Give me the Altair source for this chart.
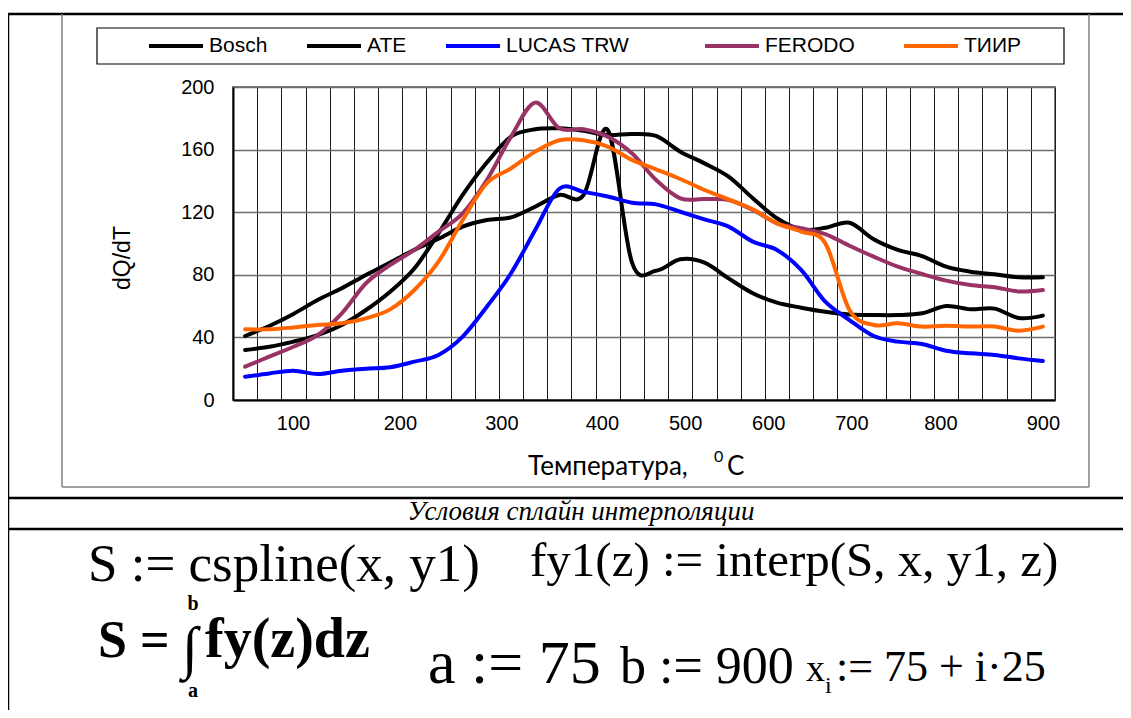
import altair as alt
import pandas as pd

# ---------------- data ----------------
temps = [75, 100, 125, 150, 175, 200, 225, 250, 275, 300, 325, 350, 375, 400, 425, 450, 475,
         500, 525, 550, 575, 600, 625, 650, 675, 700, 725, 750, 775, 800, 825, 850, 875, 900]

series_names = ["Bosch", "ATE", "LUCAS TRW", "FERODO", "ТИИР"]
series_colors = ["#000000", "#000000", "#0000FF", "#993366", "#FF6600"]

bosch = [40.9, 47.3, 55.0, 63.9, 71.4, 79.9, 87.8, 95.9, 103.0, 110.8, 115.0, 116.7, 123.5, 131.0,
         131.0, 172.5, 88.0, 82.6, 89.9, 87.8, 77.7, 68.2, 62.2, 59.0, 56.4, 54.7, 54.3, 54.3,
         55.4, 60.0, 58.0, 58.4, 52.4, 53.9]
ate = [32.0, 34.0, 37.3, 41.5, 47.9, 57.5, 69.2, 84.0, 106.5, 131.0, 151.7, 168.3, 173.0, 173.6,
       172.0, 169.3, 170.0, 168.7, 158.7, 151.2, 142.7, 128.9, 116.1, 109.0, 110.0, 113.3, 102.7,
       95.9, 92.0, 85.2, 82.0, 80.3, 78.4, 78.4]
lucas = [14.9, 17.0, 18.7, 16.6, 18.7, 20.0, 20.9, 24.5, 28.8, 40.5, 59.6, 81.0, 108.6, 135.0,
         133.0, 130.0, 126.1, 125.0, 120.3, 115.4, 110.8, 101.2, 95.9, 83.1, 62.8, 51.1, 40.9,
         37.3, 35.8, 31.5, 29.8, 28.8, 26.6, 24.9]
ferodo = [21.3, 27.7, 34.0, 41.5, 55.4, 74.6, 86.3, 95.9, 107.6, 119.3, 140.6, 168.3, 190.0, 173.6,
          173.0, 168.3, 157.6, 140.6, 128.9, 128.4, 127.8, 121.4, 112.9, 109.7, 106.0, 98.6, 91.6,
          85.2, 80.5, 76.3, 73.5, 72.0, 69.4, 70.3]
tiir = [45.2, 45.2, 46.4, 47.9, 49.0, 52.2, 57.9, 70.3, 88.4, 115.0, 138.5, 148.0, 158.7, 166.0,
        166.0, 161.9, 153.4, 147.4, 141.2, 134.2, 128.2, 121.8, 112.9, 107.6, 100.1, 57.5, 47.9,
        49.0, 46.9, 47.5, 46.9, 46.9, 44.3, 46.9]

x_tick_labels = ["100", "200", "300", "400", "500", "600", "700", "800", "900"]
x_tick_pos = [124.5, 235, 340, 444, 530, 616, 702, 794, 900]
x_grid_bounds = [62.5 + 25 * k for k in range(35)]
y_ticks = [0, 40, 80, 120, 160, 200]

rows = []
for name, vals in zip(series_names, [bosch, ate, lucas, ferodo, tiir]):
    for t, v in zip(temps, vals):
        rows.append({"series": name, "T": t, "v": v})
df = pd.DataFrame(rows)


def _key(p):
    s = str(p)
    return s.rstrip("0").rstrip(".") if "." in s else s


label_map = "{" + ",".join("'%s':'%s'" % (_key(p), l) for p, l in zip(x_tick_pos, x_tick_labels)) + "}"

# ---------------- layout ----------------
OX, OY = 233, 87          # page position of plot origin
W, H = 822, 313
PAD = {"left": OX - 8, "top": OY - 8, "right": 1115 - (OX - 8) - W, "bottom": 702 - (OY - 8) - H}

one = alt.Data(values=[{"k": 0}])
SANS = "Liberation Sans"
SERIF = "Liberation Serif"


def txt(s, px, py, size, font=SANS, weight="normal", style="normal", align="left",
        baseline="alphabetic", angle=0, color="black"):
    return alt.Chart(one).mark_text(
        text=s, fontSize=size, font=font, fontWeight=weight, fontStyle=style,
        align=align, baseline=baseline, angle=angle, color=color
    ).encode(x=alt.value(px - OX), y=alt.value(py - OY))


def hline(x1, x2, y, w=2, color="black"):
    return alt.Chart(one).mark_rule(strokeWidth=w, color=color).encode(
        x=alt.value(x1 - OX), x2=alt.value(x2 - OX), y=alt.value(y - OY))


def vline(x, y1, y2, w=2, color="black"):
    return alt.Chart(one).mark_rule(strokeWidth=w, color=color).encode(
        x=alt.value(x - OX), y=alt.value(y1 - OY), y2=alt.value(y2 - OY))


xscale = alt.Scale(domain=[62.5, 912.5], nice=False, zero=False)
yscale = alt.Scale(domain=[0, 200], nice=False)

# grid / axes layer
grid_layer = alt.Chart(df).mark_point(opacity=0).encode(
    x=alt.X("T:Q", scale=xscale,
            axis=alt.Axis(values=x_grid_bounds, labels=False, ticks=False, grid=True,
                          gridColor="#1a1a1a", gridWidth=1, domain=True, domainColor="black",
                          domainWidth=2, title=None, orient="bottom")),
    y=alt.Y("v:Q", scale=yscale,
            axis=alt.Axis(values=y_ticks, grid=True, gridColor="#6e6e6e", gridWidth=1.5,
                          domainColor="black", domainWidth=2, ticks=False, tickSize=0,
                          labelFont=SANS, labelFontSize=20, labelColor="black", labelPadding=19,
                          title=None, orient="left")),
)

legend_common = dict(orient="none", direction="horizontal", title=None, symbolType="stroke",
                     symbolSize=2916, symbolStrokeWidth=4, labelFont=SANS, labelFontSize=21,
                     labelColor="black", labelOffset=4, labelLimit=400)

first = series_names[:3]
second = series_names[3:]

line_kw = dict(interpolate="cardinal", strokeWidth=4, strokeCap="round", strokeJoin="round")

lines_a = alt.Chart(df).transform_filter(
    alt.FieldOneOfPredicate(field="series", oneOf=first)
).mark_line(**line_kw).encode(
    x=alt.X("T:Q", scale=xscale,
            axis=alt.Axis(values=x_tick_pos,
                          labelExpr=label_map + "[toString(datum.value)]",
                          grid=False, ticks=False, domain=False, labelFont=SANS, labelFontSize=20,
                          labelColor="black", labelPadding=13, title=None, orient="bottom",
                          labelFlush=False, labelOverlap=False)),
    y=alt.Y("v:Q", scale=yscale, axis=None),
    color=alt.Color("series:N", scale=alt.Scale(domain=first, range=series_colors[:3]),
                    legend=alt.Legend(legendX=-86, legendY=-70, columnPadding=31,
                                      **legend_common)),
    order=alt.Order("T:Q"),
)

lines_b = alt.Chart(df).transform_filter(
    alt.FieldOneOfPredicate(field="series", oneOf=second)
).mark_line(**line_kw).encode(
    x=alt.X("T:Q", scale=xscale, axis=None),
    y=alt.Y("v:Q", scale=yscale, axis=None),
    stroke=alt.Stroke("series:N", scale=alt.Scale(domain=second, range=series_colors[3:]),
                      legend=alt.Legend(legendX=470, legendY=-70, columnPadding=41,
                                        **legend_common)),
    order=alt.Order("T:Q"),
)

deco = [
    hline(8, 1131, 14, 2.5),
    vline(8, 14, 718, 2.5),
    vline(62, 14, 487, 1.5, "#808080"),
    vline(1089, 14, 487, 1.5, "#808080"),
    hline(62, 1089, 487, 1.5, "#808080"),
    hline(8, 1131, 498, 2.5),
    hline(8, 1131, 529, 2.5),
    alt.Chart(one).mark_rect(fillOpacity=0, stroke="black", strokeWidth=1.2).encode(
        x=alt.value(97 - OX), x2=alt.value(1064 - OX), y=alt.value(28 - OY), y2=alt.value(64 - OY)),
]

texts = [
    txt("dQ/dT", 123, 258, 23, angle=270, align="center", baseline="middle"),
    txt("Температура,", 528, 475, 26, font="Lato"),
    txt("0", 714, 462, 16, font="Lato"),
    txt("C", 727, 475, 26, font="Lato"),
    txt("Условия сплайн интерполяции", 581, 520, 27, font=SERIF, style="italic", align="center"),
    txt("S := cspline(x, y1)", 88, 581, 53, font=SERIF),
    txt("fy1(z) := interp(S, x, y1, z)", 530, 576, 49, font=SERIF),
    txt("S =", 98, 657, 52, font=SERIF, weight="bold"),
    txt("∫", 190, 667, 58, font=SERIF, align="center"),
    txt("b", 193, 610, 20, font=SERIF, weight="bold", align="center"),
    txt("a", 193, 697, 20, font=SERIF, weight="bold", align="center"),
    txt("fy(z)dz", 205, 657, 56, font=SERIF, weight="bold"),
    txt("a := 75", 428, 683, 62, font=SERIF),
    txt("b := 900", 620, 683, 52, font=SERIF),
    txt("x", 806, 681, 38, font=SERIF),
    txt("i", 825, 693, 24, font=SERIF),
    txt(":= 75 + i·25", 836, 681, 44, font=SERIF),
]

chart = alt.layer(*deco, grid_layer, lines_a, lines_b, *texts).resolve_axis(
    x="independent", y="independent").properties(
    width=W, height=H, padding=PAD, autosize=alt.AutoSizeParams(type="none"),
    background="white"
).configure_view(stroke="#808080", strokeWidth=2)

chart.save("out.html", embed_options={"renderer": "svg", "actions": False})
